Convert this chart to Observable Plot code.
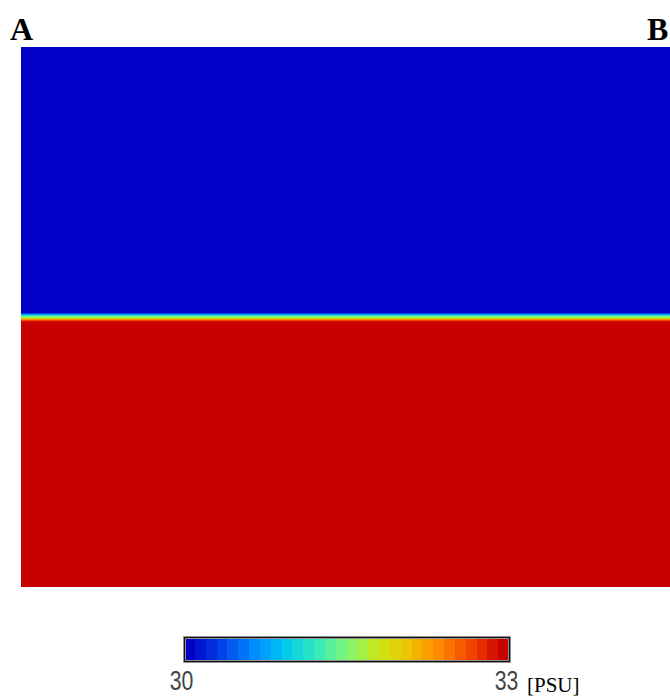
<!DOCTYPE html>
<html>
<head>
<meta charset="utf-8">
<script src="https://cdn.jsdelivr.net/npm/d3@7"></script>
<script src="https://cdn.jsdelivr.net/npm/@observablehq/plot@0.6"></script>
<style>
  html, body { margin: 0; padding: 0; background: #fff; }
  #root { position: relative; width: 670px; height: 700px; overflow: hidden; }
  .lbl { position: absolute; font-family: "Liberation Serif", "Times New Roman", serif; font-weight: bold; font-size: 32px; line-height: 1; color: #000; }
  #main { position: absolute; left: 0; top: 47px; }
  #bar { position: absolute; left: 0; top: 636px; }
  #unit { position: absolute; left: 527px; top: 675px; font-family: "Liberation Serif", "Times New Roman", serif; font-size: 21px; line-height: 1; color: #000; }
</style>
</head>
<body>
<div id="root">
  <div class="lbl" style="left:10px; top:13px;">A</div>
  <div class="lbl" style="left:647px; top:13px;">B</div>
  <div id="main"></div>
  <div id="bar"></div>
  <div id="unit">[PSU]</div>
</div>
<script>
// ---- data ----
// normalized section distance A -> B
const sectionExtent = [0, 1];
// normalized depth boundaries of the layers (surface = 0, bottom = 1)
const layerDepth = [0, 0.4926, 0.4947, 0.4968, 0.4989, 0.5010, 0.5031, 0.5052, 0.5073, 0.5093, 1];
// salinity [PSU] in each layer
const layerSalinity = [30, 30.3, 30.7, 31.1, 31.5, 31.9, 32.3, 32.6, 32.85, 33];
// colour bar
const salinityRange = [30, 33];
const colorbarTicks = [30, 33];
const colorbarBands = 30;
const jetStops = ["#0000c6", "#0040e4", "#0088ff", "#00c8f0", "#30e8c0", "#80f878", "#c8e818", "#f0c000", "#ff8800", "#f04000", "#c80000"];

// ---- derived tables ----
const layers = layerSalinity.map((s, i) => ({top: layerDepth[i], bottom: layerDepth[i + 1], salinity: s}));
const bandWidth = (salinityRange[1] - salinityRange[0]) / colorbarBands;
const bands = d3.range(colorbarBands).map(i => ({lo: salinityRange[0] + i * bandWidth, hi: salinityRange[0] + (i + 1) * bandWidth}));
const jet = d3.piecewise(d3.interpolateRgb, jetStops);
const colorScale = {type: "quantize", domain: salinityRange, range: d3.quantize(jet, colorbarBands)};

// ---- main section ----
const main = Plot.plot({
  width: 670,
  height: 540,
  marginLeft: 21,
  marginRight: 0,
  marginTop: 0,
  marginBottom: 0,
  x: {domain: sectionExtent, axis: null},
  y: {domain: [0, 1], reverse: true, axis: null},
  color: colorScale,
  marks: [
    Plot.rect(layers, {x1: sectionExtent[0], x2: sectionExtent[1], y1: "top", y2: "bottom", fill: "salinity", shapeRendering: "crispEdges"})
  ]
});
document.getElementById("main").append(main);

// ---- colour bar ----
const bar = Plot.plot({
  width: 670,
  height: 70,
  marginLeft: 184,
  marginRight: 161,
  marginTop: 1,
  marginBottom: 45,
  style: {fontFamily: "'Liberation Sans', Arial, sans-serif", fontSize: "28px", color: "#333", overflow: "visible"},
  x: {domain: salinityRange, axis: null},
  color: colorScale,
  marks: [
    Plot.rect(bands, {x1: "lo", x2: "hi", fill: d => (d.lo + d.hi) / 2, shapeRendering: "crispEdges"}),
    Plot.frame({stroke: "#bbb", strokeWidth: 3}),
    Plot.frame({stroke: "#111", strokeWidth: 1.5}),
    Plot.axisX(colorbarTicks, {tickSize: 0, tickPadding: 9, fontSize: 28, fill: "#444", tickFormat: d => String(d)})
  ]
});
// narrow the tick labels like the reference's condensed digits, nudged slightly left
bar.querySelectorAll("text").forEach(t => {
  const tr = t.getAttribute("transform") || "";
  t.setAttribute("transform", tr + " translate(-3,0) scale(0.76,1)");
});
document.getElementById("bar").append(bar);
</script>
</body>
</html>
